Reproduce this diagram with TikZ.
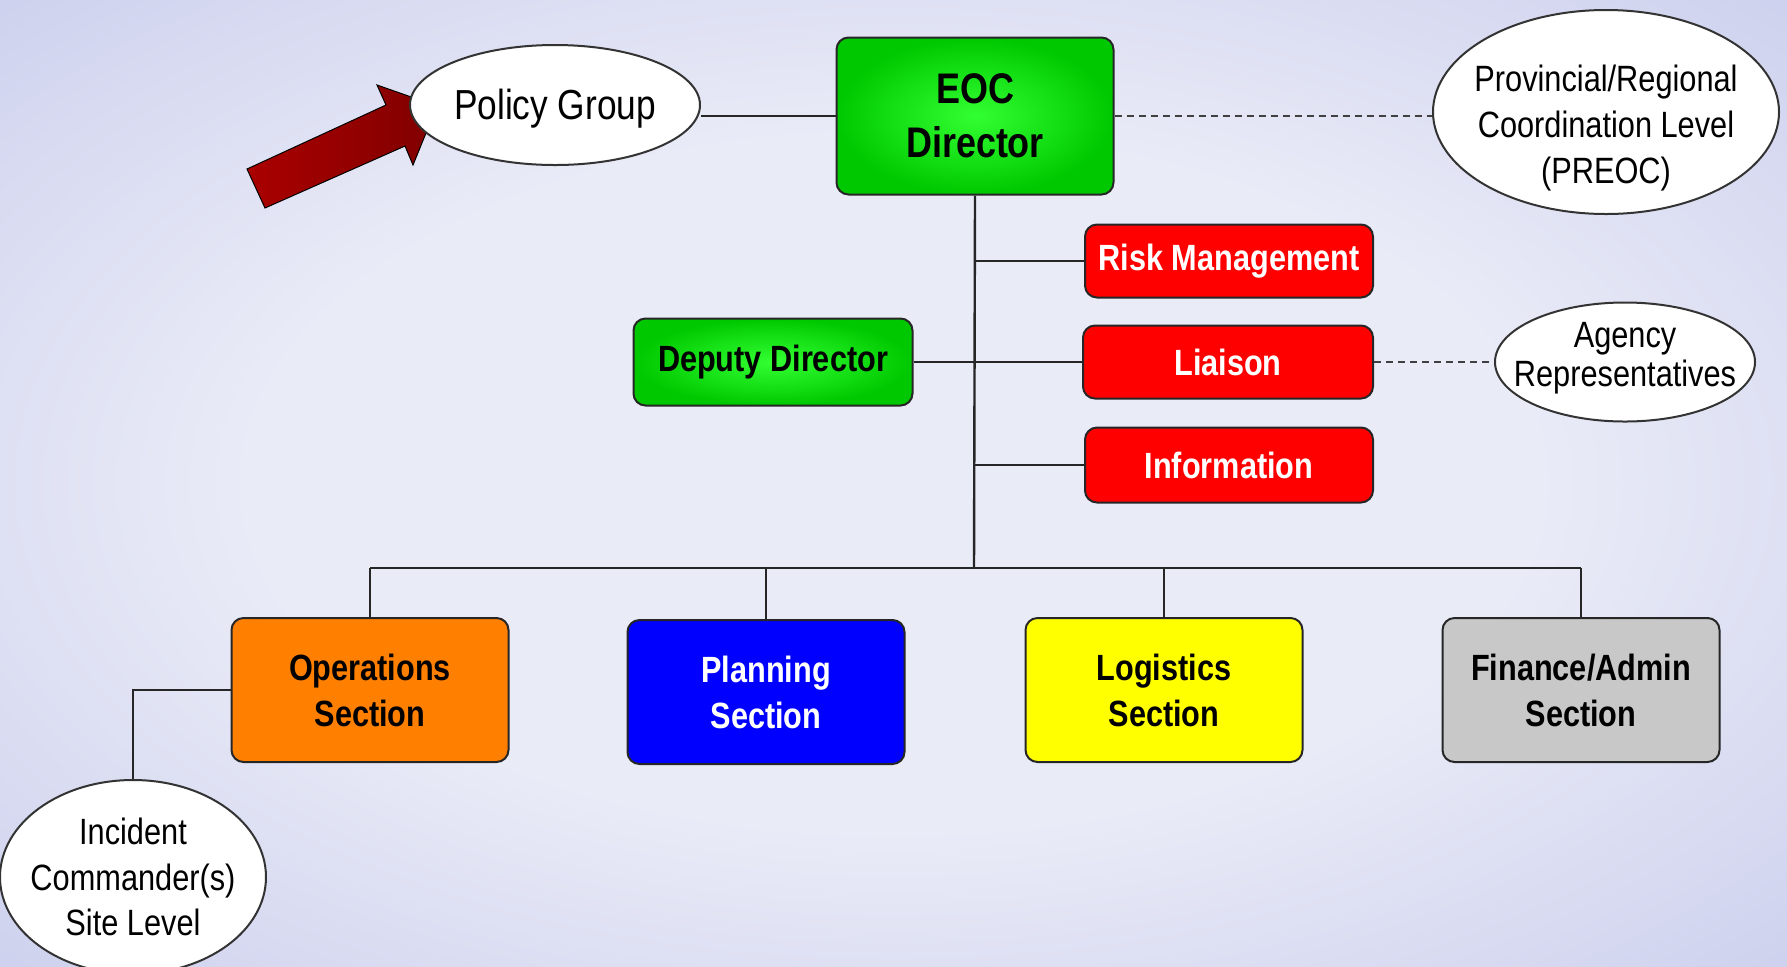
\documentclass[tikz,border=0pt]{standalone}
\usepackage{fontspec}
\setmainfont{Liberation Sans}[FakeStretch=0.84]
\usetikzlibrary{shapes.geometric}
\definecolor{grIn}{RGB}{50,255,50}
\definecolor{grOut}{RGB}{0,200,0}
\definecolor{redbox}{RGB}{255,0,0}
\definecolor{orangebox}{RGB}{255,128,0}
\definecolor{bluebox}{RGB}{0,0,255}
\definecolor{yellowbox}{RGB}{255,255,0}
\definecolor{graybox}{RGB}{200,200,200}
\definecolor{bgIn}{RGB}{233,235,247}
\definecolor{bgOut}{RGB}{184,188,230}
\definecolor{arrL}{RGB}{170,0,0}
\definecolor{arrR}{RGB}{128,0,0}
\pgfdeclareradialshading{bgshade}{\pgfpoint{0bp}{0bp}}{color(0bp)=(bgIn); color(18bp)=(bgIn); color(50bp)=(bgOut); color(72bp)=(bgOut)}
\pgfdeclarelayer{back}
\pgfdeclarelayer{bg}
\pgfsetlayers{back,bg,main}
\begin{document}
\begin{tikzpicture}[x=0.5pt,y=-0.5pt,
  box/.style={draw=black!85, line width=1pt, rounded corners=6pt, align=center, inner sep=0pt,
    font=\bfseries\fontsize{18.25}{23}\selectfont},
  sectbox/.style={box, minimum width=138.5pt, minimum height=72pt},
  redbx/.style={box, fill=redbox, text=white, minimum width=144pt, minimum height=36.5pt},
  greenbx/.style={box, shade, inner color=grIn, outer color=grOut},
  oval/.style={ellipse, draw=black!80, line width=1pt, fill=white, inner sep=0pt},
  ovaltext/.style={align=center, inner sep=0pt, font=\fontsize{18.3}{22.8}\selectfont},
  conn/.style={line width=1.2pt, draw=black!85},
  dconn/.style={line width=1.2pt, draw=black!75, dash pattern=on 3.5pt off 2.5pt}]
\useasboundingbox (0,0) rectangle (1787,966);
\begin{pgfonlayer}{back}
  \shade[shading=bgshade] (0,0) rectangle (1787,966);
\end{pgfonlayer}

% boxes
\node[greenbx, minimum width=138.5pt, minimum height=78.5pt,
  font=\bfseries\fontsize{21.4}{26.8}\selectfont] (eoc) at (975,116) {EOC\\Director};
\node[redbx] (risk) at (1229,261) {Risk Management};
\node[redbx, minimum width=145pt] (liaison) at (1228,362) {Liaison};
\node[redbx, minimum height=37.5pt] (info) at (1229,465) {Information};
\node[greenbx, minimum width=139.5pt, minimum height=43.5pt] (deputy) at (773,362) {Deputy Director};
\node[sectbox, fill=orangebox, text depth=0pt] (ops) at (370,690) {Operations\\Section};
\node[sectbox, fill=bluebox, text=white] (plan) at (766,692) {Planning\\Section};
\node[sectbox, fill=yellowbox] (logi) at (1164,690) {Logistics\\Section};
\node[sectbox, fill=graybox] (fin) at (1581,690) {Finance/Admin\\Section};

% ellipses and their texts
\node[oval, minimum width=145pt, minimum height=60pt] (policy) at (555,105) {};
\node[ovaltext, font=\fontsize{21}{25}\selectfont] (policy-t) at (555,109) {Policy Group};
\node[oval, minimum width=173pt, minimum height=102pt] (preoc) at (1606,112) {};
\node[ovaltext] (preoc-t) at (1606,128) {Provincial/Regional\\Coordination Level\\(PREOC)};
\node[oval, minimum width=130pt, minimum height=59.5pt] (agency) at (1625,362) {};
\node[ovaltext, font=\fontsize{18.3}{19.5}\selectfont] (agency-t) at (1625,358) {Agency\\Representatives};
\node[oval, minimum width=133pt, minimum height=97pt] (incident) at (133,877) {};
\node[ovaltext] (incident-t) at (133,877) {Incident\\Commander(s)\\Site Level};

\coordinate (bus) at (974,568);

\begin{pgfonlayer}{bg}
  % red arrow pointing at Policy Group
  \shade[left color=arrL, right color=arrR, draw=black, line width=0.5pt]
    (247,169) -- (386,105) -- (377,85) -- (437,106) -- (413,165) -- (405,146) -- (265,208) -- cycle;
  % connectors
  \draw[conn] (eoc.west) -- (eoc.west -| policy.east);
  \draw[dconn] (eoc.east) -- (eoc.east -| preoc.west);
  \draw[conn] (eoc.south) -- (bus);
  \draw[conn] (eoc.south |- risk.west) -- (risk.west);
  \draw[conn] (deputy.east) -- (liaison.west);
  \draw[conn] (eoc.south |- info.west) -- (info.west);
  \draw[dconn] (liaison.east) -- (agency.west);
  \draw[conn] (bus -| ops.north) -- (bus -| fin.north);
  \draw[conn] (bus -| ops.north) -- (ops.north);
  \draw[conn] (bus -| plan.north) -- (plan.north);
  \draw[conn] (bus -| logi.north) -- (logi.north);
  \draw[conn] (bus -| fin.north) -- (fin.north);
  \draw[conn] (ops.west) -| (incident.north);
\end{pgfonlayer}
\end{tikzpicture}
\end{document}
